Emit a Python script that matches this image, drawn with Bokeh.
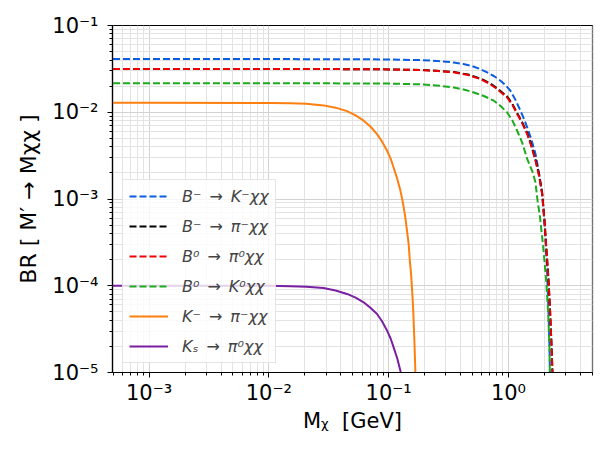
from bokeh.plotting import figure
from bokeh.models import Range1d, FixedTicker, CustomJSTickFormatter, Legend, LegendItem
from bokeh.embed import file_html
from bokeh.resources import INLINE

# ---- data (M_chi in GeV, branching ratio) ----
bk_x = [5e-4, 1e-3, 1e-2, 0.05, 0.1, 0.184, 0.25, 0.349, 0.42, 0.5, 0.58, 0.664, 0.76, 0.858,
        0.95, 1.039, 1.15, 1.26, 1.35, 1.433, 1.55, 1.681, 1.8, 1.912, 2.0, 2.08, 2.14, 2.18,
        2.21, 2.235]
bk_y = [0.0410, 0.0410, 0.0410, 0.0409, 0.0406, 0.0399, 0.0391, 0.0375, 0.0359, 0.0340, 0.0315,
        0.0288, 0.0260, 0.0231, 0.0204, 0.0177, 0.0137, 0.0104, 0.0083, 0.00668, 0.0049, 0.00333,
        0.0020, 0.00115, 5.2e-4, 2.0e-4, 7.5e-5, 3.2e-5, 1.5e-5, 5e-6]

bpi_x = [5e-4, 1e-3, 1e-2, 0.05, 0.1, 0.184, 0.25, 0.349, 0.46, 0.583, 0.70, 0.805, 0.975, 1.08,
         1.182, 1.30, 1.433, 1.55, 1.681, 1.80, 1.912, 2.0, 2.066, 2.16, 2.23, 2.29, 2.33, 2.36]
bpi_y = [0.0315, 0.0315, 0.0315, 0.0314, 0.0312, 0.0307, 0.0301, 0.0291, 0.0272, 0.0245, 0.0216,
         0.0189, 0.0152, 0.0124, 0.0098, 0.0077, 0.00578, 0.0042, 0.00285, 0.0019, 0.00118,
         5.7e-4, 2.9e-4, 1.18e-4, 4.9e-5, 2.05e-5, 1.02e-5, 4e-6]

b0pi_x = [5e-4, 1e-3, 1e-2, 0.05, 0.1, 0.184, 0.25, 0.349, 0.46, 0.583, 0.70, 0.805, 0.975, 1.08,
          1.182, 1.30, 1.433, 1.55, 1.681, 1.80, 1.912, 2.0, 2.066, 2.16, 2.23, 2.29, 2.33, 2.36]
b0pi_y = [0.0315, 0.0315, 0.0315, 0.0314, 0.0312, 0.0306, 0.0300, 0.0289, 0.0269, 0.0241, 0.0212,
          0.0185, 0.0148, 0.0121, 0.00953, 0.0075, 0.00561, 0.0041, 0.00276, 0.00185, 0.00114,
          5.5e-4, 2.8e-4, 1.15e-4, 4.8e-5, 2.0e-5, 1.0e-5, 4e-6]

b0k_x = [5e-4, 1e-3, 1e-2, 0.05, 0.1, 0.184, 0.25, 0.349, 0.43, 0.513, 0.63, 0.754, 0.86, 0.975,
         1.08, 1.182, 1.30, 1.433, 1.60, 1.681, 1.75, 1.826, 1.95, 2.066, 2.146, 2.20, 2.215, 2.235]
b0k_y = [0.0216, 0.0216, 0.0216, 0.0215, 0.0214, 0.0210, 0.0204, 0.0193, 0.0182, 0.0169, 0.0153,
         0.0136, 0.0118, 0.00996, 0.0080, 0.00612, 0.0045, 0.0029, 0.0020, 1.55e-3, 9.5e-4,
         6.5e-4, 2.8e-4, 1.14e-4, 4.8e-5, 1.95e-5, 1.0e-5, 4e-6]

kpi_x = [5e-4, 1e-3, 1e-2, 0.0151, 0.0205, 0.0286, 0.036, 0.0449, 0.053, 0.0618, 0.070, 0.0800,
         0.088, 0.0970, 0.104, 0.110, 0.118, 0.1253, 0.132, 0.1378, 0.142, 0.1469, 0.150, 0.1538,
         0.157, 0.160, 0.164, 0.167, 0.169]
kpi_y = [0.0129, 0.0129, 0.0128, 0.0127, 0.0125, 0.0120, 0.0113, 0.0103, 0.0092, 0.0080, 0.0069,
         0.0056, 0.0046, 0.0036, 0.0029, 0.00231, 0.0017, 0.00125, 8.8e-4, 6.1e-4, 4.4e-4, 3.0e-4,
         2.0e-4, 1.37e-4, 8.8e-5, 5.6e-5, 2.3e-5, 1.05e-5, 5e-6]

ks_x = [5e-4, 1e-3, 1e-2, 0.0151, 0.0205, 0.0286, 0.036, 0.0449, 0.053, 0.0618, 0.070, 0.0800,
        0.088, 0.0970, 0.104, 0.110, 0.118, 0.1253, 0.13]
ks_y = [1.0e-4, 1.0e-4, 1.0e-4, 9.9e-5, 9.75e-5, 9.4e-5, 8.8e-5, 8.05e-5, 7.3e-5, 6.45e-5, 5.6e-5,
        4.73e-5, 3.9e-5, 3.04e-5, 2.45e-5, 1.95e-5, 1.45e-5, 1.05e-5, 8e-6]

labels = ["B\u207b\u2002\u2192\u2002K\u207b\u03c7\u03c7", "B\u207b\u2002\u2192\u2002\u03c0\u207b\u03c7\u03c7",
          "B\u2070\u2002\u2192\u2002\u03c0\u2070\u03c7\u03c7", "B\u2070\u2002\u2192\u2002K\u2070\u03c7\u03c7",
          "K\u207b\u2002\u2192\u2002\u03c0\u207b\u03c7\u03c7", "K\u209b\u2002\u2192\u2002\u03c0\u2070\u03c7\u03c7"]
colors = ["#0a5ce0", "#000000", "#ee0000", "#1cab1c", "#ff7f0e", "#7a1fa2"]

x_major = [1e-3, 1e-2, 1e-1, 1.0]
y_major = [1e-5, 1e-4, 1e-3, 1e-2, 1e-1]

# ---- figure ----
p = figure(width=599, height=447, x_axis_type="log", y_axis_type="log",
           x_range=Range1d(4.95e-4, 5.03), y_range=Range1d(1e-5, 1e-1),
           output_backend="svg", toolbar_location=None,
           min_border_left=112, min_border_right=7, min_border_top=25, min_border_bottom=75)

x_minor = [k * 10.0 ** n for n in range(-4, 1) for k in range(2, 10) if 4.95e-4 <= k * 10.0 ** n <= 5.03]
y_minor = [k * 10.0 ** n for n in range(-5, -1) for k in range(2, 10)]

xt = FixedTicker(ticks=x_major, minor_ticks=x_minor)
yt = FixedTicker(ticks=y_major, minor_ticks=y_minor)
p.xaxis.ticker = xt
p.yaxis.ticker = yt
p.xgrid.ticker = xt
p.ygrid.ticker = yt

fmt_code = """
const sup = {"-": "\u207b", "0": "\u2070", "1": "\u00b9", "2": "\u00b2", "3": "\u00b3",
             "4": "\u2074", "5": "\u2075", "6": "\u2076", "7": "\u2077", "8": "\u2078", "9": "\u2079"};
const e = Math.round(Math.log10(tick));
return "10" + String(e).split("").map(c => sup[c]).join("");
"""
p.xaxis.formatter = CustomJSTickFormatter(code=fmt_code)
p.yaxis.formatter = CustomJSTickFormatter(code=fmt_code)

for g in (p.xgrid, p.ygrid):
    g.grid_line_color = "#d2d2d2"
    g.grid_line_width = 1
    g.minor_grid_line_color = "#e3e3e3"
    g.minor_grid_line_width = 1

for ax in (p.xaxis, p.yaxis):
    ax.axis_line_color = "black"
    ax.axis_line_width = 1.2
    ax.major_tick_line_color = "black"
    ax.minor_tick_line_color = "black"
    ax.major_tick_in = 0
    ax.minor_tick_in = 0
    ax.major_tick_out = 5
    ax.minor_tick_out = 3
    ax.major_label_text_font = "DejaVu Sans"
    ax.major_label_text_font_size = "21px"
    ax.major_label_text_color = "black"
    ax.axis_label_text_font = "DejaVu Sans"
    ax.axis_label_text_font_size = "21px"
    ax.axis_label_text_font_style = "normal"
    ax.axis_label_text_color = "black"

p.yaxis.axis_label_text_font_size = "22px"
p.xaxis.major_label_standoff = 3
p.yaxis.major_label_standoff = 9
p.xaxis.axis_label = "M\u1d6a\u00a0\u00a0[GeV]"
p.yaxis.axis_label = "BR [ M\u2032 \u2192 M\u03c7\u03c7 ]"
p.xaxis.axis_label_standoff = 1
p.yaxis.axis_label_standoff = 8

p.outline_line_color = "black"
p.outline_line_width = 1.2
p.background_fill_color = "white"
p.border_fill_color = "white"

series = [(bk_x, bk_y), (bpi_x, bpi_y), (b0pi_x, b0pi_y), (b0k_x, b0k_y), (kpi_x, kpi_y), (ks_x, ks_y)]
items = []
for i, ((xs, ys), lab, col) in enumerate(zip(series, labels, colors)):
    if i < 4:
        r = p.line(xs, ys, line_color=col, line_width=2, line_dash="7 3")
    else:
        r = p.line(xs, ys, line_color=col, line_width=2)
    items.append(LegendItem(label=lab, renderers=[r]))

legend = Legend(items=items, location=(10, 9))
legend.label_text_font = "DejaVu Sans"
legend.label_text_font_size = "16px"
legend.label_text_font_style = "italic"
legend.glyph_width = 39
legend.glyph_height = 20
legend.label_height = 20
legend.spacing = 10
legend.padding = 6
legend.label_standoff = 14
legend.margin = 0
legend.border_line_color = "#cccccc"
legend.border_line_width = 1
legend.background_fill_alpha = 0.8
p.add_layout(legend)

open("out.html", "w").write(file_html(p, INLINE))
